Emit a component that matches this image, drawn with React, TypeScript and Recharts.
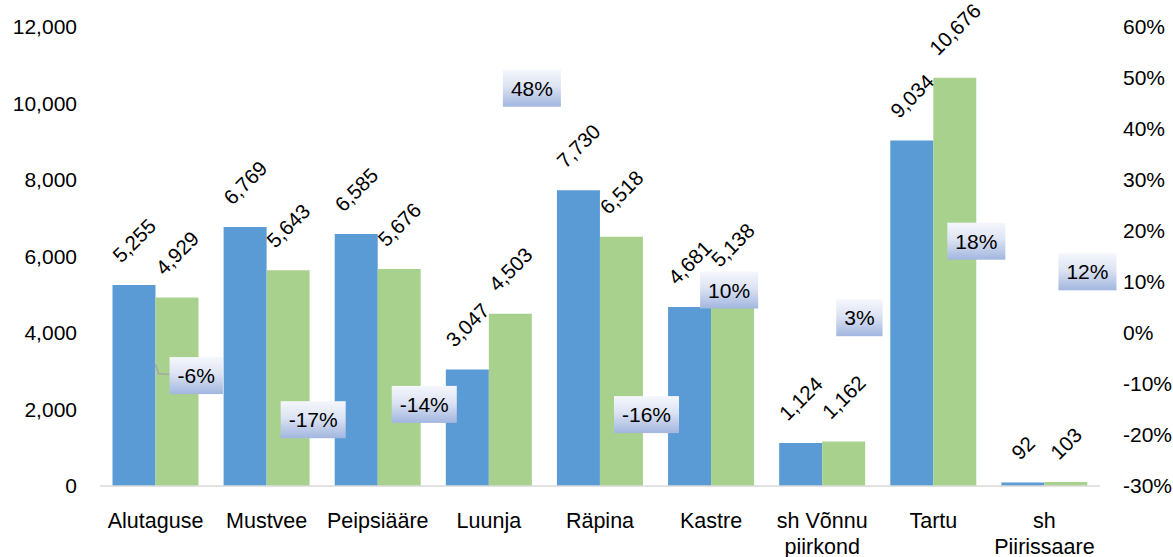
import { Bar, ComposedChart, LabelList, Line, XAxis, YAxis } from "recharts";

const categories = [
  "Alutaguse",
  "Mustvee",
  "Peipsiääre",
  "Luunja",
  "Räpina",
  "Kastre",
  "sh Võnnu\npiirkond",
  "Tartu",
  "sh\nPiirissaare",
];
const before = [5255, 6769, 6585, 3047, 7730, 4681, 1124, 9034, 92];
const after = [4929, 5643, 5676, 4503, 6518, 5138, 1162, 10676, 103];
const change = [-6, -17, -14, 48, -16, 10, 3, 18, 12];
const leftTicks = [0, 2000, 4000, 6000, 8000, 10000, 12000];
const rightTicks = [-30, -20, -10, 0, 10, 20, 30, 40, 50, 60];

const data = categories.map((name, i) => ({
  name,
  before: before[i],
  after: after[i],
  change: change[i],
}));

const FONT = '"Liberation Sans", Arial, sans-serif';
const FS = 21;

function textWidth(s: string, fs = FS) {
  let w = 0;
  for (const ch of s) {
    if (ch === "," || ch === ".") w += 0.278;
    else if (ch === "-") w += 0.333;
    else if (ch === "%") w += 0.889;
    else w += 0.556;
  }
  return w * fs;
}

function BarValue(props: any) {
  const { x, y, width, value } = props;
  const text = Number(value).toLocaleString("en-US");
  const cx = x + width / 2;
  const box = (textWidth(text, 20) + 14) * 0.707;
  const cy = y - 22 - box / 2;
  return (
    <text
      x={cx}
      y={cy}
      textAnchor="middle"
      dominantBaseline="central"
      transform={`rotate(-45 ${cx} ${cy})`}
      fontFamily={FONT}
      fontSize={20.5}
      fill="#000"
    >
      {text}
    </text>
  );
}

function PctLabel(props: any) {
  const { x, y, value, index } = props;
  const text = `${value}%`;
  const w = textWidth(text) + 16;
  const h = 37;
  let left = x + 14;
  let cy = y;
  // labels Excel pushed aside to avoid overlaps
  if (index === 0) cy = y + 12;
  if (index === 5) {
    left = x - 11;
    cy = y + 8;
  }
  const id = `pctGrad${index}`;
  return (
    <g>
      <defs>
        <linearGradient id={id} x1="0" y1="0" x2="0" y2="1">
          <stop offset="0%" stopColor="#F5F7FC" />
          <stop offset="45%" stopColor="#DCE3F3" />
          <stop offset="100%" stopColor="#A2B6DF" />
        </linearGradient>
      </defs>
      {index === 0 ? (
        <polyline
          points={`${x},${y + 1} ${x + 3},${cy - 2} ${left},${cy - 1}`}
          fill="none"
          stroke="#A6A6A6"
          strokeWidth={1.5}
        />
      ) : null}
      <rect x={left} y={cy - h / 2} width={w} height={h} fill={`url(#${id})`} />
      <text
        x={left + w / 2}
        y={cy}
        textAnchor="middle"
        dominantBaseline="central"
        fontFamily={FONT}
        fontSize={FS}
        fill="#000"
      >
        {text}
      </text>
    </g>
  );
}

function CategoryTick(props: any) {
  const { x, y, payload } = props;
  const lines = String(payload.value).split("\n");
  return (
    <text x={x} y={y} textAnchor="middle" fontFamily={FONT} fontSize={21.5} fill="#000">
      {lines.map((l, i) => (
        <tspan key={i} x={x} y={y + 40 + i * 26}>
          {l}
        </tspan>
      ))}
    </text>
  );
}

export default function App() {
  return (
    <div style={{ position: "absolute", left: 0, top: 0, background: "#fff" }}>
      <ComposedChart
        width={1173}
        height={557}
        data={data}
        margin={{ top: 27, right: 0, bottom: 0, left: 0 }}
        barCategoryGap="11.25%"
        barGap={0}
      >
        <XAxis
          dataKey="name"
          height={71}
          interval={0}
          tickLine={false}
          tickSize={0}
          axisLine={{ stroke: "#D9D9D9", strokeWidth: 1.5 }}
          tick={<CategoryTick />}
        />
        <YAxis
          yAxisId="left"
          width={100}
          domain={[0, 12000]}
          ticks={leftTicks}
          axisLine={false}
          tickLine={false}
          tickSize={0}
          tickMargin={23}
          tickFormatter={(v: number) => v.toLocaleString("en-US")}
          tick={{ fontFamily: FONT, fontSize: FS, fill: "#000" }}
        />
        <YAxis
          yAxisId="right"
          orientation="right"
          width={73}
          domain={[-30, 60]}
          ticks={rightTicks}
          axisLine={false}
          tickLine={false}
          tickSize={0}
          tickMargin={23}
          tickFormatter={(v: number) => `${v}%`}
          tick={{ fontFamily: FONT, fontSize: FS, fill: "#000", textAnchor: "start" }}
        />
        <Bar yAxisId="left" dataKey="before" fill="#5B9BD5" isAnimationActive={false}>
          <LabelList dataKey="before" content={<BarValue />} />
        </Bar>
        <Bar yAxisId="left" dataKey="after" fill="#A9D18E" isAnimationActive={false}>
          <LabelList dataKey="after" content={<BarValue />} />
        </Bar>
        <Line
          yAxisId="right"
          dataKey="change"
          stroke="none"
          dot={false}
          activeDot={false}
          isAnimationActive={false}
        >
          <LabelList dataKey="change" content={<PctLabel />} />
        </Line>
      </ComposedChart>
    </div>
  );
}
